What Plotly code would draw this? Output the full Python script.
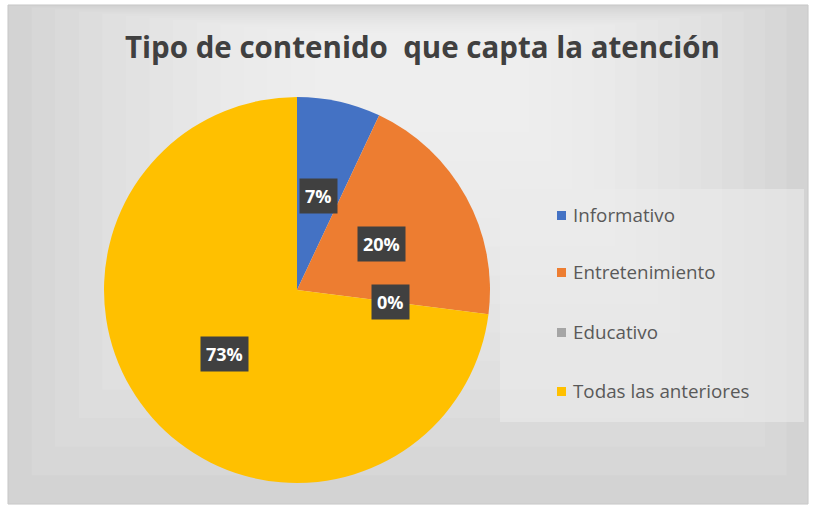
import math
import plotly.graph_objects as go

# Survey results
categorias = ["Informativo", "Entretenimiento", "Educativo", "Todas las anteriores"]
porcentajes = [7, 20, 0, 73]
colores = ["#4472C4", "#ED7D31", "#A5A5A5", "#FFC000"]
titulo = "Tipo de contenido  que capta la atención"

W, H = 815, 508

fig = go.Figure()
fig.add_trace(go.Pie(
    labels=categorias,
    values=porcentajes,
    marker=dict(colors=colores, line=dict(width=0)),
    sort=False,
    direction="clockwise",
    rotation=0,
    textinfo="none",
    hoverinfo="label+percent",
    showlegend=False,
    domain=dict(x=[104 / W, 490 / W], y=[1 - 483 / H, 1 - 97 / H]),
))

shapes = []
# chart frame with a soft radial-style highlight
shapes.append(dict(type="rect", xref="paper", yref="paper", layer="below",
                   x0=8 / W, x1=808 / W, y0=1 - 504 / H, y1=1 - 5 / H,
                   fillcolor="#cfcfcf", line=dict(color="#c4c4c4", width=1)))
steps = 14
for i in range(steps):
    f = i / steps
    x0 = 8 + f * 330
    x1 = 808 - f * 300
    y0 = 5 + f * 30
    y1 = 504 - f * 400
    shapes.append(dict(type="rect", xref="paper", yref="paper", layer="below",
                       x0=x0 / W, x1=x1 / W, y0=1 - y1 / H, y1=1 - y0 / H,
                       fillcolor="white", opacity=0.09, line=dict(width=0)))

# legend panel
shapes.append(dict(type="rect", xref="paper", yref="paper", layer="below",
                   x0=500 / W, x1=804 / W, y0=1 - 422 / H, y1=1 - 189 / H,
                   fillcolor="#ebebeb", opacity=0.6, line=dict(width=0)))

annotations = []
# legend entries
leg_y = [215, 272, 332, 391]
for cat, col, yy in zip(categorias, colores, leg_y):
    shapes.append(dict(type="rect", xref="paper", yref="paper",
                       x0=557 / W, x1=566 / W, y0=1 - (yy + 5) / H, y1=1 - (yy - 4) / H,
                       fillcolor=col, line=dict(width=0)))
    annotations.append(dict(text=cat, x=571 / W, y=1 - yy / H, xref="paper", yref="paper",
                            xanchor="left", yanchor="middle", showarrow=False,
                            font=dict(family="Open Sans, DejaVu Sans", size=18.8, color="#595959")))

# data labels in dark boxes, placed at half the radius along each slice's mid-angle
cx, cy, r = 297, 290, 193
total = sum(porcentajes)
acc = 0
for val in porcentajes:
    start = acc / total * 360
    acc += val
    end = acc / total * 360
    mid = math.radians((start + end) / 2)
    dist = 0.5 * r if val > 0 else 0.49 * r
    lx = cx + dist * math.sin(mid)
    ly = cy - dist * math.cos(mid)
    annotations.append(dict(text=f"<b>{val}%</b>", x=lx / W, y=1 - ly / H,
                            xref="paper", yref="paper", showarrow=False,
                            xanchor="center", yanchor="middle",
                            bgcolor="#404040", borderpad=5,
                            font=dict(family="Open Sans, DejaVu Sans", size=18, color="white")))

# title
annotations.append(dict(text=f"<b>{titulo}</b>", x=422 / W, y=1 - 46 / H,
                        xref="paper", yref="paper", showarrow=False,
                        xanchor="center", yanchor="middle",
                        font=dict(family="Open Sans, DejaVu Sans", size=29.5, color="#404040")))

fig.update_layout(
    width=W, height=H,
    margin=dict(l=0, r=0, t=0, b=0),
    paper_bgcolor="white",
    plot_bgcolor="white",
    shapes=shapes,
    annotations=annotations,
    showlegend=False,
)

fig.write_html("out.html")
